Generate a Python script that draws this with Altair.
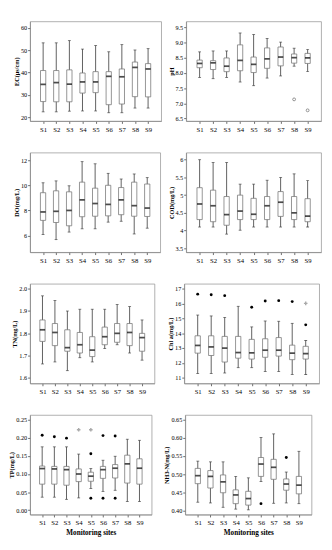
import altair as alt
import pandas as pd

sites = ["S1", "S2", "S3", "S4", "S5", "S6", "S7", "S8", "S9"]

# EC
ec_min = [22.4, 22.4, 22.7, 22.8, 22.8, 22.0, 22.0, 24.1, 24.1]
ec_q1 = [27.0, 26.9, 26.9, 30.8, 31.0, 25.6, 25.9, 29.2, 29.1]
ec_med = [34.7, 35.5, 34.8, 35.8, 35.8, 38.3, 38.1, 42.3, 41.6]
ec_q3 = [40.9, 40.9, 41.2, 39.8, 40.4, 40.4, 41.6, 44.7, 44.0]
ec_max = [53.3, 53.3, 54.3, 50.5, 52.1, 49.3, 52.5, 50.1, 50.7]

# pH
ph_min = [7.85, 7.81, 7.85, 7.70, 7.58, 7.83, 7.90, 8.22, 8.04]
ph_q1 = [8.17, 8.11, 8.04, 8.07, 8.01, 8.15, 8.23, 8.32, 8.31]
ph_med = [8.31, 8.33, 8.22, 8.41, 8.28, 8.46, 8.52, 8.50, 8.49]
ph_q3 = [8.42, 8.40, 8.49, 8.92, 8.52, 8.82, 8.85, 8.62, 8.64]
ph_max = [8.69, 8.72, 8.72, 9.31, 9.26, 9.13, 9.01, 8.81, 8.77]
ph_out_sites = ["S8", "S9"]
ph_out_vals = [7.13, 6.77]

# DO
do_min = [6.08, 5.68, 6.28, 6.54, 6.54, 7.07, 7.14, 6.13, 6.59]
do_q1 = [7.21, 7.04, 6.78, 7.50, 7.54, 7.57, 7.66, 7.54, 7.52]
do_med = [7.88, 7.93, 8.00, 8.84, 8.55, 8.48, 8.84, 8.38, 8.19]
do_q3 = [9.41, 9.56, 9.48, 10.25, 9.77, 10.00, 9.82, 10.25, 10.10]
do_max = [10.20, 10.35, 9.96, 11.88, 11.71, 10.95, 10.50, 10.90, 10.61]

# COD
cod_min = [4.10, 4.10, 3.90, 4.01, 4.10, 4.10, 4.10, 4.10, 4.10]
cod_q1 = [4.31, 4.25, 4.15, 4.31, 4.31, 4.31, 4.40, 4.31, 4.25]
cod_med = [4.75, 4.70, 4.45, 4.55, 4.46, 4.70, 4.80, 4.50, 4.41]
cod_q3 = [5.21, 5.14, 4.96, 5.00, 4.91, 4.96, 5.10, 4.96, 4.90]
cod_max = [6.00, 5.92, 5.92, 5.31, 5.31, 5.42, 5.50, 5.60, 5.41]

# TN
tn_min = [1.663, 1.672, 1.633, 1.691, 1.672, 1.732, 1.749, 1.712, 1.680]
tn_q1 = [1.764, 1.745, 1.720, 1.712, 1.696, 1.749, 1.760, 1.745, 1.720]
tn_med = [1.816, 1.804, 1.736, 1.749, 1.725, 1.785, 1.800, 1.804, 1.781]
tn_q3 = [1.860, 1.844, 1.816, 1.804, 1.785, 1.828, 1.844, 1.844, 1.800]
tn_max = [1.968, 1.947, 1.900, 1.908, 1.908, 1.908, 1.929, 1.920, 1.860]

# Chl a
chl_min = [11.28, 11.28, 11.32, 11.68, 11.68, 11.42, 11.42, 11.22, 11.22]
chl_q1 = [12.66, 12.50, 12.06, 12.32, 12.26, 12.38, 12.46, 12.22, 12.26]
chl_med = [13.18, 13.08, 13.00, 12.70, 12.68, 12.86, 12.86, 12.66, 12.62]
chl_q3 = [13.83, 13.83, 13.79, 13.79, 13.59, 13.63, 13.71, 13.20, 13.12]
chl_max = [15.23, 15.17, 15.07, 15.82, 14.43, 14.83, 14.81, 14.67, 13.51]
chl_out_sites = ["S1", "S2", "S3", "S5", "S6", "S7", "S8", "S9"]
chl_out_vals = [16.64, 16.60, 16.54, 15.76, 16.18, 16.20, 16.14, 14.57]
chl_ext_sites = ["S9"]
chl_ext_vals = [16.02]

# TP
tp_min = [0.036, 0.036, 0.030, 0.034, 0.060, 0.052, 0.055, 0.024, 0.024]
tp_q1 = [0.072, 0.072, 0.069, 0.079, 0.080, 0.088, 0.089, 0.075, 0.072]
tp_med = [0.115, 0.114, 0.112, 0.100, 0.094, 0.112, 0.116, 0.128, 0.116]
tp_q3 = [0.122, 0.121, 0.121, 0.114, 0.105, 0.121, 0.126, 0.152, 0.142]
tp_max = [0.175, 0.175, 0.175, 0.155, 0.115, 0.138, 0.149, 0.196, 0.193]
tp_out_sites = ["S1", "S2", "S3", "S5", "S5", "S6", "S6", "S7", "S7"]
tp_out_vals = [0.207, 0.203, 0.199, 0.156, 0.033, 0.206, 0.033, 0.205, 0.033]
tp_ext_sites = ["S4", "S5"]
tp_ext_vals = [0.222, 0.222]

# NH3-N
nh_min = [0.423, 0.421, 0.409, 0.404, 0.402, 0.480, 0.420, 0.421, 0.419]
nh_q1 = [0.474, 0.462, 0.449, 0.419, 0.415, 0.494, 0.486, 0.456, 0.446]
nh_med = [0.496, 0.494, 0.479, 0.443, 0.433, 0.528, 0.519, 0.473, 0.470]
nh_q3 = [0.516, 0.510, 0.498, 0.457, 0.453, 0.546, 0.541, 0.487, 0.494]
nh_max = [0.536, 0.534, 0.534, 0.494, 0.490, 0.601, 0.611, 0.506, 0.563]
nh_out_sites = ["S6", "S8"]
nh_out_vals = [0.419, 0.546]

FONT = "Liberation Serif"
H = 104


def panel(title, mins, q1s, meds, q3s, maxs, domain, ticks, fmt, width,
          out=None, ext=None, open_out=None, xtitle=None):
    df = pd.DataFrame({"site": sites, "lo": mins, "q1": q1s, "med": meds,
                       "q3": q3s, "hi": maxs})
    xaxis = alt.Axis(title=xtitle, labelAngle=0, labelFontSize=7,
                     labelPadding=2, tickSize=2.5, titleFontSize=7.5,
                     titleFontWeight="bold", titlePadding=3, titleFont=FONT,
                     labelFont=FONT, labelColor="black", titleColor="black")
    x = alt.X("site:N", sort=sites, scale=alt.Scale(type="point", padding=1.0),
              axis=xaxis)
    ysc = alt.Scale(domain=domain, nice=False, zero=False)
    yax = alt.Axis(title=title, values=ticks, format=fmt,
                   labelColor="black", titleColor="black")

    def Y(f):
        return alt.Y(f, scale=ysc, axis=yax, title=title)

    base = alt.Chart(df)
    whisk = base.mark_rule(color="#333", strokeWidth=0.8).encode(
        x=x, y=Y("lo:Q"), y2="hi:Q")
    box = base.mark_bar(size=5.5, fill="white", stroke="#777",
                        strokeWidth=0.8).encode(x=x, y=Y("q1:Q"), y2="q3:Q")
    med = base.mark_tick(size=5.5, thickness=1.8, color="black").encode(
        x=x, y=Y("med:Q"))
    caplo = base.mark_tick(size=3, thickness=0.9, color="#333").encode(
        x=x, y=Y("lo:Q"))
    caphi = base.mark_tick(size=3, thickness=0.9, color="#333").encode(
        x=x, y=Y("hi:Q"))
    layers = [whisk, box, med, caplo, caphi]
    if out is not None:
        d = pd.DataFrame({"site": out[0], "v": out[1]})
        layers.append(alt.Chart(d).mark_point(shape="circle", filled=True,
                                              color="black", size=9, opacity=1)
                      .encode(x=x, y=Y("v:Q")))
    if ext is not None:
        d = pd.DataFrame({"site": ext[0], "v": ext[1]})
        layers.append(alt.Chart(d).mark_point(shape="cross", filled=True,
                                              color="#aaa", size=14, opacity=1)
                      .encode(x=x, y=Y("v:Q")))
    if open_out is not None:
        d = pd.DataFrame({"site": open_out[0], "v": open_out[1]})
        layers.append(alt.Chart(d).mark_point(shape="circle", filled=False,
                                              color="#777", size=9,
                                              strokeWidth=0.8, opacity=1)
                      .encode(x=x, y=Y("v:Q")))
    return alt.layer(*layers).properties(width=width, height=H)


p_ec = panel("EC(μs/cm)", ec_min, ec_q1, ec_med, ec_q3, ec_max,
             [18.3, 62.9], [20, 30, 40, 50, 60], "d", 137)
p_ph = panel("pH", ph_min, ph_q1, ph_med, ph_q3, ph_max,
             [6.42, 9.69], [6.5, 7.0, 7.5, 8.0, 8.5, 9.0, 9.5], ".1f", 141,
             open_out=(ph_out_sites, ph_out_vals))
p_do = panel("DO(mg/L)", do_min, do_q1, do_med, do_q3, do_max,
             [4.68, 12.6], [6, 8, 10, 12], "d", 136)
p_cod = panel("COD(mg/L)", cod_min, cod_q1, cod_med, cod_q3, cod_max,
              [3.39, 6.2], [3.5, 4, 4.5, 5, 5.5, 6], "", 141)
p_tn = panel("TN(mg/L)", tn_min, tn_q1, tn_med, tn_q3, tn_max,
             [1.576, 2.022], [1.6, 1.7, 1.8, 1.9, 2.0], ".1f", 130)
p_chl = panel("Chl a(mg/L)", chl_min, chl_q1, chl_med, chl_q3, chl_max,
              [10.62, 17.34], [11, 12, 13, 14, 15, 16, 17], "d", 141,
              out=(chl_out_sites, chl_out_vals), ext=(chl_ext_sites, chl_ext_vals))
p_tp = panel("TP(mg/L)", tp_min, tp_q1, tp_med, tp_q3, tp_max,
             [-0.012, 0.263], [0.0, 0.05, 0.10, 0.15, 0.20, 0.25], ".2f", 127,
             out=(tp_out_sites, tp_out_vals), ext=(tp_ext_sites, tp_ext_vals),
             xtitle="Monitoring sites")
p_nh = panel("NH3-N(mg/L)", nh_min, nh_q1, nh_med, nh_q3, nh_max,
             [0.389, 0.663], [0.40, 0.45, 0.50, 0.55, 0.60, 0.65], ".2f", 132,
             out=(nh_out_sites, nh_out_vals), xtitle="Monitoring sites")

row1 = alt.hconcat(p_ec, p_ph, spacing=5)
row2 = alt.hconcat(p_do, p_cod, spacing=6)
row3 = alt.hconcat(p_tn, p_chl, spacing=12)
row4 = alt.hconcat(p_tp, p_nh, spacing=11)

chart = alt.vconcat(row1, row2, row3, row4, spacing=20).properties(
    padding={"left": 0, "top": 1, "right": 2, "bottom": 2}
).configure(font=FONT).configure_axis(
    labelFont=FONT, titleFont=FONT, labelFontSize=6.5, titleFontSize=6.5,
    titleFontWeight="bold", labelColor="black", titleColor="black",
    domainColor="#888", domainWidth=0.8, tickColor="#444", tickWidth=0.8,
    tickSize=2.5, labelPadding=1, titlePadding=1, grid=False
).configure_view(stroke="#999", strokeWidth=0.8)

chart.save("out.html", embed_options={"renderer": "svg", "actions": False})
